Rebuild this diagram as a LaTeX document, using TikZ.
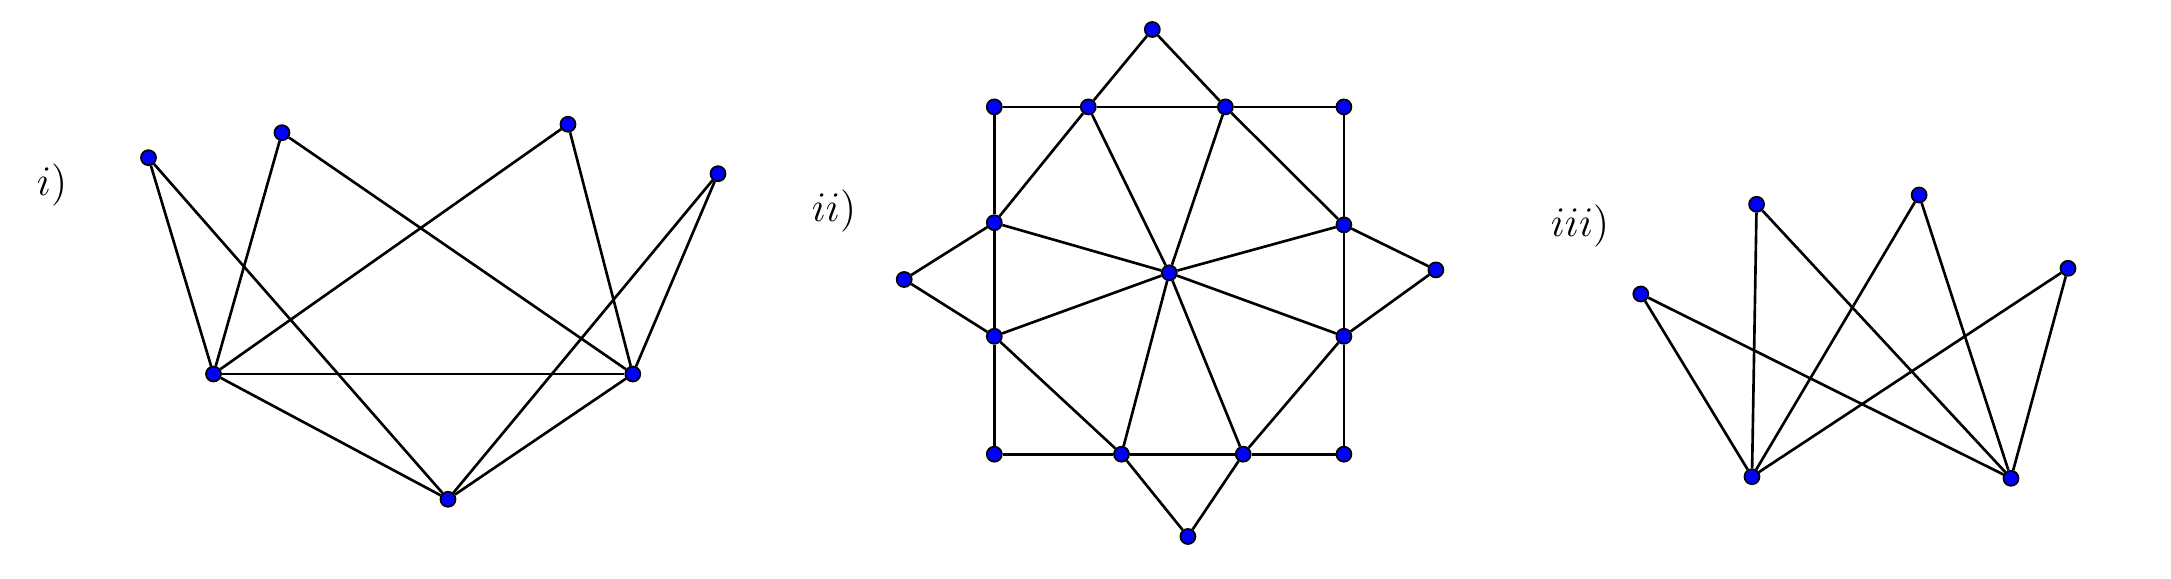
\documentclass[tikz,border=0pt]{standalone}
\usepackage{amsmath}
\usepackage{amssymb}
\usepackage{xcolor}

\begin{document}
\begin{tikzpicture}[
  x=0.01cm, y=-0.01cm, line width=0.75pt,  vertex/.style={circle,draw=black,fill=blue,line width=0.5pt,inner sep=0pt,minimum size=0.15cm},  glabel/.style={font=\fontsize{13}{15}\selectfont}
]
  \useasboundingbox (0,0) rectangle (2171,579);
  % i)
  \node[glabel] (li) at (52,185) {$i)$};
  \node[vertex] (a0) at (148.5,157.7) {};
  \node[vertex] (a1) at (282.0,132.7) {};
  \node[vertex] (a2) at (568.0,124.3) {};
  \node[vertex] (a3) at (718.0,173.7) {};
  \node[vertex] (a4) at (213.5,374.0) {};
  \node[vertex] (a5) at (632.8,374.0) {};
  \node[vertex] (a6) at (448.0,499.3) {};
  \draw (a0) -- (a4);
  \draw (a0) -- (a6);
  \draw (a1) -- (a4);
  \draw (a1) -- (a5);
  \draw (a2) -- (a4);
  \draw (a2) -- (a5);
  \draw (a3) -- (a5);
  \draw (a3) -- (a6);
  \draw (a4) -- (a5);
  \draw (a4) -- (a6);
  \draw (a5) -- (a6);
  % ii)
  \node[glabel] (lii) at (834,211) {$ii)$};
  \node[vertex] (b0) at (1152.3,29.5) {};
  \node[vertex] (b1) at (994.3,106.9) {};
  \node[vertex] (b2) at (1088.3,106.9) {};
  \node[vertex] (b3) at (1225.4,106.9) {};
  \node[vertex] (b4) at (1343.9,106.9) {};
  \node[vertex] (b5) at (994.3,222.7) {};
  \node[vertex] (b6) at (1343.9,224.9) {};
  \node[vertex] (b7) at (904.2,279.5) {};
  \node[vertex] (b8) at (1169.3,272.8) {};
  \node[vertex] (b9) at (1435.9,269.9) {};
  \node[vertex] (b10) at (994.3,336.3) {};
  \node[vertex] (b11) at (1343.9,336.3) {};
  \node[vertex] (b12) at (994.3,454.2) {};
  \node[vertex] (b13) at (1121.5,454.2) {};
  \node[vertex] (b14) at (1243.2,454.2) {};
  \node[vertex] (b15) at (1343.9,454.2) {};
  \node[vertex] (b16) at (1187.9,536.5) {};
  \draw (b0) -- (b2);
  \draw (b0) -- (b3);
  \draw (b1) -- (b2);
  \draw (b2) -- (b3);
  \draw (b3) -- (b4);
  \draw (b1) -- (b5);
  \draw (b5) -- (b10);
  \draw (b10) -- (b12);
  \draw (b4) -- (b6);
  \draw (b6) -- (b11);
  \draw (b11) -- (b15);
  \draw (b12) -- (b13);
  \draw (b13) -- (b14);
  \draw (b14) -- (b15);
  \draw (b2) -- (b5);
  \draw (b2) -- (b8);
  \draw (b3) -- (b8);
  \draw (b3) -- (b6);
  \draw (b5) -- (b8);
  \draw (b6) -- (b8);
  \draw (b10) -- (b8);
  \draw (b11) -- (b8);
  \draw (b13) -- (b8);
  \draw (b14) -- (b8);
  \draw (b10) -- (b13);
  \draw (b11) -- (b14);
  \draw (b7) -- (b5);
  \draw (b7) -- (b10);
  \draw (b9) -- (b6);
  \draw (b9) -- (b11);
  \draw (b16) -- (b13);
  \draw (b16) -- (b14);
  % iii)
  \node[glabel] (liii) at (1580,226) {$iii)$};
  \node[vertex] (c0) at (1640.8,294.0) {};
  \node[vertex] (c1) at (1756.6,204.3) {};
  \node[vertex] (c2) at (1919.1,195.0) {};
  \node[vertex] (c3) at (2068.0,268.3) {};
  \node[vertex] (c4) at (1752.0,476.7) {};
  \node[vertex] (c5) at (2011.0,478.3) {};
  \draw (c0) -- (c4);
  \draw (c0) -- (c5);
  \draw (c1) -- (c4);
  \draw (c1) -- (c5);
  \draw (c2) -- (c4);
  \draw (c2) -- (c5);
  \draw (c3) -- (c4);
  \draw (c3) -- (c5);
\end{tikzpicture}
\end{document}
